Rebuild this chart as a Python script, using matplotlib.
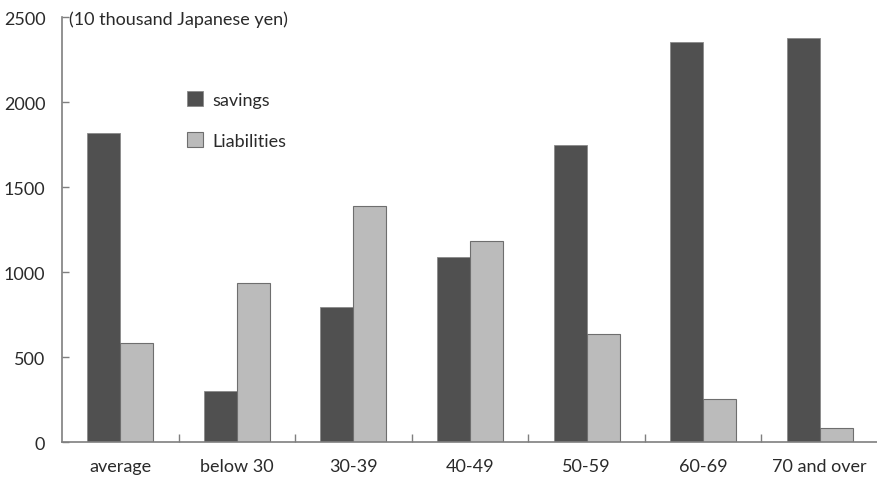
import matplotlib
matplotlib.use("Agg")
import matplotlib.pyplot as plt
import numpy as np

# Household savings and liabilities by age of household head
categories = ["average", "below 30", "30-39", "40-49", "50-59", "60-69", "70 and over"]
savings = [1818, 304, 796, 1092, 1749, 2353, 2376]
liabilities = [582, 940, 1388, 1182, 637, 255, 82]
y_ticks = [0, 500, 1000, 1500, 2000, 2500]
unit_label = "(10 thousand Japanese yen)"

plt.rcParams["font.family"] = ["Lato", "DejaVu Sans"]
text_color = "#2a2a2a"
axis_color = "#7f7f7f"
fs = 13

W, H = 878, 481
fig = plt.figure(figsize=(W / 100, H / 100), dpi=100)
left, right, bottom, top = 62, 878, 443.3, 18.3
ax = fig.add_axes([left / W, (H - bottom) / H, (right - left) / W, (bottom - top) / H])

x = np.arange(len(categories))
w = 0.283
ax.bar(x - w / 2, savings, width=w, color="#505050", edgecolor="#8a8a8a",
       linewidth=0.6, label="savings", zorder=2)
ax.bar(x + w / 2, liabilities, width=w, color="#bbbbbb", edgecolor="#6e6e6e",
       linewidth=0.8, label="Liabilities", zorder=2)

ax.set_xlim(-0.5, len(categories) - 0.5)
ax.set_ylim(0, 2500)

for s in ["top", "right"]:
    ax.spines[s].set_visible(False)
for s in ["left", "bottom"]:
    ax.spines[s].set_color(axis_color)
    ax.spines[s].set_linewidth(1.2)

ax.set_yticks(y_ticks)
ax.set_yticklabels([str(v) for v in y_ticks])
ax.tick_params(axis="y", direction="in", length=5, width=1.0, color=axis_color,
               pad=12, labelsize=fs, labelcolor=text_color)

# boundaries get tick marks, category centres get labels
ax.set_xticks(np.arange(len(categories)) + 0.5)
ax.set_xticklabels([])
ax.tick_params(axis="x", which="major", direction="in", length=6, width=1.0,
               color=axis_color)
ax.set_xticks(x, minor=True)
ax.set_xticklabels(categories, minor=True)
ax.tick_params(axis="x", which="minor", length=0, pad=11, labelsize=fs,
               labelcolor=text_color)

fig.text(69 / W, 1 - 20 / H, unit_label, ha="left", va="center",
         fontsize=fs, color=text_color)

leg = ax.legend(loc="upper left", bbox_to_anchor=(178 / W, 1 - 83 / H),
                bbox_transform=fig.transFigure, frameon=False,
                handlelength=0.9, handleheight=0.9, handletextpad=0.5,
                labelspacing=1.35, fontsize=fs, borderpad=0)
for t in leg.get_texts():
    t.set_color(text_color)

fig.savefig("out.png", dpi=100, facecolor="white")
